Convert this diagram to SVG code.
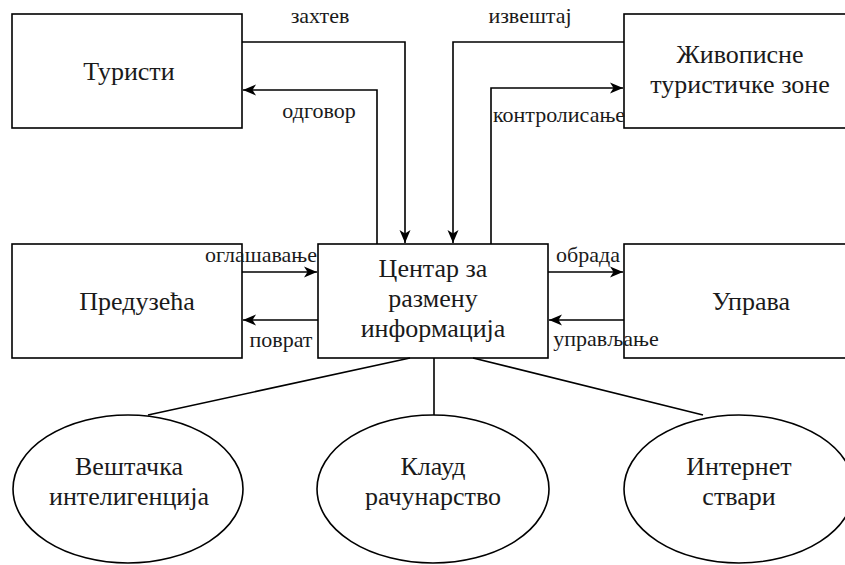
<svg xmlns="http://www.w3.org/2000/svg" width="845" height="565" viewBox="0 0 845 565">
  <defs>
    <marker id="arr" markerUnits="userSpaceOnUse" markerWidth="14" markerHeight="14" viewBox="0 0 14 14" refX="13" refY="7" orient="auto">
      <path d="M0,1.5 L13,7 L0,12.5 L3.5,7 z" fill="#000"/>
    </marker>
    <style>
      .box { fill: #fff; stroke: #000; stroke-width: 1.6; }
      .main { font-family: 'Liberation Serif', 'DejaVu Serif', serif; font-size: 26px; fill: #1a1a1a; text-anchor: middle; }
      .lbl { font-family: 'Liberation Serif', 'DejaVu Serif', serif; font-size: 22px; fill: #1a1a1a; text-anchor: middle; }
      .edge { fill: none; stroke: #000; stroke-width: 1.6; }
      .arrow { marker-end: url(#arr); }
    </style>
  </defs>
  <rect width="845" height="565" fill="#fff"/>

  <g id="turisti">
    <rect class="box" x="12" y="14" width="230" height="114"/>
    <text class="main" x="129" y="80">Туристи</text>
  </g>
  <g id="zone">
    <rect class="box" x="624" y="14" width="230" height="114"/>
    <text class="main" x="740" y="63">Живописне</text>
    <text class="main" x="740" y="93">туристичке зоне</text>
  </g>
  <g id="preduzeca">
    <rect class="box" x="12" y="244" width="230" height="114"/>
    <text class="main" x="137" y="310">Предузећа</text>
  </g>
  <g id="centar">
    <rect class="box" x="318" y="244" width="230" height="114"/>
    <text class="main" x="433" y="277">Центар за</text>
    <text class="main" x="433" y="307">размену</text>
    <text class="main" x="433" y="337">информација</text>
  </g>
  <g id="uprava">
    <rect class="box" x="624" y="244" width="230" height="114"/>
    <text class="main" x="751" y="310">Управа</text>
  </g>
  <g id="ai">
    <ellipse class="box" cx="128" cy="489" rx="115" ry="74"/>
    <text class="main" x="129" y="475">Вештачка</text>
    <text class="main" x="129" y="505">интелигенција</text>
  </g>
  <g id="cloud">
    <ellipse class="box" cx="433" cy="489" rx="116" ry="74"/>
    <text class="main" x="433" y="475">Клауд</text>
    <text class="main" x="433" y="505">рачунарство</text>
  </g>
  <g id="iot">
    <ellipse class="box" cx="739" cy="489" rx="115" ry="74"/>
    <text class="main" x="739" y="475">Интернет</text>
    <text class="main" x="739" y="505">ствари</text>
  </g>

  <g id="connectors">
    <path class="edge arrow" d="M242,42 H405 V243"/>
    <path class="edge arrow" d="M377,244 V90 H243"/>
    <path class="edge arrow" d="M624,42 H453 V243"/>
    <path class="edge arrow" d="M491,244 V88 H623"/>
    <path class="edge arrow" d="M242,272 H317"/>
    <path class="edge arrow" d="M318,320 H243"/>
    <path class="edge arrow" d="M548,272 H623"/>
    <path class="edge arrow" d="M624,320 H549"/>
    <path class="edge" d="M410,358 L148,415"/>
    <path class="edge" d="M434,358 V415"/>
    <path class="edge" d="M473,358 L703,415"/>
    <text class="lbl" x="320" y="23">захтев</text>
    <text class="lbl" x="319" y="118">одговор</text>
    <text class="lbl" x="530" y="23">извештај</text>
    <text class="lbl" x="559" y="122">контролисање</text>
    <text class="lbl" x="261" y="262">оглашавање</text>
    <text class="lbl" x="281" y="347">поврат</text>
    <text class="lbl" x="588" y="262">обрада</text>
    <text class="lbl" x="606" y="346">управљање</text>
  </g>
</svg>
